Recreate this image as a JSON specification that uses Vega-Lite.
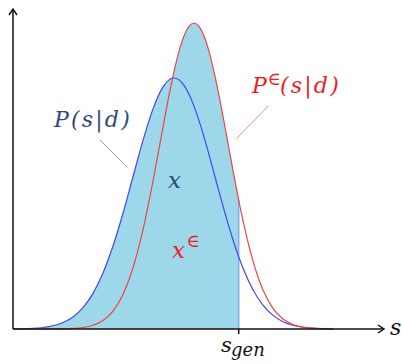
{
  "$schema": "https://vega.github.io/schema/vega-lite/v6.json",
  "width": 371,
  "height": 320,
  "autosize": {"type": "none"},
  "padding": {"left": 13, "top": 9, "right": 18, "bottom": 35},
  "background": "white",
  "config": {"view": {"stroke": null}},
  "datasets": {
    "curves": [
      {"s": 0, "blue": 0.11, "red": 0, "fill": 0.11},
      {"s": 20, "blue": 0.68, "red": 0, "fill": 0.68},
      {"s": 30, "blue": 1.52, "red": 0.02, "fill": 1.52},
      {"s": 40, "blue": 3.22, "red": 0.06, "fill": 3.22},
      {"s": 50, "blue": 6.43, "red": 0.18, "fill": 6.43},
      {"s": 60, "blue": 12.08, "red": 0.54, "fill": 12.08},
      {"s": 70, "blue": 21.38, "red": 1.48, "fill": 21.38},
      {"s": 80, "blue": 35.66, "red": 3.71, "fill": 35.66},
      {"s": 90, "blue": 56.04, "red": 8.52, "fill": 56.04},
      {"s": 100, "blue": 82.99, "red": 17.92, "fill": 82.99},
      {"s": 110, "blue": 115.79, "red": 34.59, "fill": 115.79},
      {"s": 120, "blue": 152.24, "red": 61.2, "fill": 152.24},
      {"s": 130, "blue": 188.59, "red": 99.34, "fill": 188.59},
      {"s": 140, "blue": 220.14, "red": 147.9, "fill": 220.14},
      {"s": 150, "blue": 242.13, "red": 201.93, "fill": 242.13},
      {"s": 156, "blue": 249.14, "red": 233.52, "fill": 249.14},
      {"s": 159.4, "blue": 250.8, "red": 250.1, "fill": 250.8},
      {"s": 161, "blue": 251, "red": 257.39, "fill": 257.39},
      {"s": 166, "blue": 249.14, "red": 277.62, "fill": 277.62},
      {"s": 171, "blue": 243.65, "red": 293.05, "fill": 293.05},
      {"s": 176, "blue": 234.75, "red": 302.71, "fill": 302.71},
      {"s": 181, "blue": 222.85, "red": 306, "fill": 306},
      {"s": 186, "blue": 208.42, "red": 302.71, "fill": 302.71},
      {"s": 191, "blue": 192.05, "red": 293.05, "fill": 293.05},
      {"s": 196, "blue": 174.35, "red": 277.62, "fill": 277.62},
      {"s": 201, "blue": 155.95, "red": 257.39, "fill": 257.39},
      {"s": 206, "blue": 137.43, "red": 233.52, "fill": 233.52},
      {"s": 211, "blue": 119.33, "red": 207.34, "fill": 207.34},
      {"s": 216, "blue": 102.07, "red": 180.14, "fill": 180.14},
      {"s": 221, "blue": 86.03, "red": 153.17, "fill": 153.17},
      {"s": 225.7, "blue": 72.26, "red": 128.94, "fill": 128.94},
      {"s": 231, "blue": 58.44, "red": 103.78, "fill": null},
      {"s": 240, "blue": 39.22, "red": 67.9, "fill": null},
      {"s": 250, "blue": 23.8, "red": 39.04, "fill": null},
      {"s": 260, "blue": 13.6, "red": 20.58, "fill": null},
      {"s": 270, "blue": 7.33, "red": 9.95, "fill": null},
      {"s": 280, "blue": 3.72, "red": 4.42, "fill": null},
      {"s": 290, "blue": 1.78, "red": 1.8, "fill": null},
      {"s": 300, "blue": 0.8, "red": 0.67, "fill": null},
      {"s": 310, "blue": 0.34, "red": 0.23, "fill": null},
      {"s": 320, "blue": 0.14, "red": 0.07, "fill": null}
    ],
    "leaders": [
      {"s": 87, "p": 189, "s2": 113.7, "p2": 162.3, "who": "P"},
      {"s": 255.3, "p": 223, "s2": 223.7, "p2": 190.7, "who": "Pe"}
    ],
    "axes": [
      {"s": 0, "p": 0, "s2": 371, "p2": 0},
      {"s": 0, "p": 0, "s2": 0, "p2": 320},
      {"s": 225.7, "p": 0, "s2": 225.7, "p2": -5}
    ]
  },
  "layer": [
    {
      "data": {"name": "curves"},
      "mark": {"type": "area", "interpolate": "monotone", "color": "#9dd8ea", "opacity": 1},
      "encoding": {
        "x": {"field": "s", "type": "quantitative", "scale": {"domain": [0, 371]}, "axis": null},
        "y": {"field": "fill", "type": "quantitative", "scale": {"domain": [0, 320]}, "axis": null}
      }
    },
    {
      "data": {"values": [{"s": 225.7, "p": 128.94}]},
      "mark": {"type": "rule", "color": "#84ace6", "strokeWidth": 1.5},
      "encoding": {
        "x": {"field": "s", "type": "quantitative", "scale": {"domain": [0, 371]}, "axis": null},
        "y": {"field": "p", "type": "quantitative", "scale": {"domain": [0, 320]}, "axis": null},
        "y2": {"datum": 0}
      }
    },
    {
      "data": {"name": "curves"},
      "mark": {"type": "line", "interpolate": "monotone", "color": "#4444f2", "strokeWidth": 1.2},
      "encoding": {
        "x": {"field": "s", "type": "quantitative", "scale": {"domain": [0, 371]}, "axis": null},
        "y": {"field": "blue", "type": "quantitative", "scale": {"domain": [0, 320]}, "axis": null}
      }
    },
    {
      "data": {"name": "curves"},
      "mark": {"type": "line", "interpolate": "monotone", "color": "#f04444", "strokeWidth": 1.2},
      "encoding": {
        "x": {"field": "s", "type": "quantitative", "scale": {"domain": [0, 371]}, "axis": null},
        "y": {"field": "red", "type": "quantitative", "scale": {"domain": [0, 320]}, "axis": null}
      }
    },
    {
      "data": {"name": "leaders"},
      "mark": {"type": "rule", "strokeWidth": 1},
      "encoding": {
        "x": {"field": "s", "type": "quantitative", "scale": {"domain": [0, 371]}, "axis": null},
        "y": {"field": "p", "type": "quantitative", "scale": {"domain": [0, 320]}, "axis": null},
        "x2": {"field": "s2"},
        "y2": {"field": "p2"},
        "color": {"field": "who", "type": "nominal", "scale": {"domain": ["P", "Pe"], "range": ["#8c9dbb", "#f28a8a"]}, "legend": null}
      }
    },
    {
      "data": {"name": "axes"},
      "mark": {"type": "rule", "color": "#111111", "strokeWidth": 1.5},
      "encoding": {
        "x": {"field": "s", "type": "quantitative", "scale": {"domain": [0, 371]}, "axis": null},
        "y": {"field": "p", "type": "quantitative", "scale": {"domain": [0, 320]}, "axis": null},
        "x2": {"field": "s2"},
        "y2": {"field": "p2"}
      }
    },
    {
      "data": {"values": [{"s": 371, "p": 0}]},
      "mark": {"type": "point", "shape": "M-1.5,-1L0,0L-1.5,1", "filled": false, "stroke": "#111111", "strokeWidth": 1.5, "size": 64, "opacity": 1},
      "encoding": {
        "x": {"field": "s", "type": "quantitative", "scale": {"domain": [0, 371]}, "axis": null},
        "y": {"field": "p", "type": "quantitative", "scale": {"domain": [0, 320]}, "axis": null}
      }
    },
    {
      "data": {"values": [{"s": 0, "p": 320}]},
      "mark": {"type": "point", "shape": "M-1,1.5L0,0L1,1.5", "filled": false, "stroke": "#111111", "strokeWidth": 1.5, "size": 64, "opacity": 1},
      "encoding": {
        "x": {"field": "s", "type": "quantitative", "scale": {"domain": [0, 371]}, "axis": null},
        "y": {"field": "p", "type": "quantitative", "scale": {"domain": [0, 320]}, "axis": null}
      }
    },
    {
      "data": {"values": [{"s": 41, "p": 202, "t": "P\u200a(\u200as\u200a|\u200ad\u200a)"}]},
      "mark": {"type": "text", "font": "DejaVu Serif", "fontStyle": "italic", "fontSize": 22, "color": "#2e4a7d", "align": "left", "baseline": "alphabetic"},
      "encoding": {
        "x": {"field": "s", "type": "quantitative", "scale": {"domain": [0, 371]}, "axis": null},
        "y": {"field": "p", "type": "quantitative", "scale": {"domain": [0, 320]}, "axis": null},
        "text": {"field": "t"}
      }
    },
    {
      "data": {"values": [{"s": 155, "p": 141, "t": "x"}]},
      "mark": {"type": "text", "font": "DejaVu Serif", "fontStyle": "italic", "fontSize": 23, "color": "#2e4a7d", "align": "left", "baseline": "alphabetic"},
      "encoding": {
        "x": {"field": "s", "type": "quantitative", "scale": {"domain": [0, 371]}, "axis": null},
        "y": {"field": "p", "type": "quantitative", "scale": {"domain": [0, 320]}, "axis": null},
        "text": {"field": "t"}
      }
    },
    {
      "data": {"values": [{"s": 239, "p": 236, "t": "P"}, {"s": 267, "p": 236, "t": "(\u200as\u200a|\u200ad\u200a)"}]},
      "mark": {"type": "text", "font": "DejaVu Serif", "fontStyle": "italic", "fontSize": 22, "color": "#f01c1c", "align": "left", "baseline": "alphabetic"},
      "encoding": {
        "x": {"field": "s", "type": "quantitative", "scale": {"domain": [0, 371]}, "axis": null},
        "y": {"field": "p", "type": "quantitative", "scale": {"domain": [0, 320]}, "axis": null},
        "text": {"field": "t"}
      }
    },
    {
      "data": {"values": [{"s": 159, "p": 71, "t": "x"}]},
      "mark": {"type": "text", "font": "DejaVu Serif", "fontStyle": "italic", "fontSize": 23, "color": "#f01c1c", "align": "left", "baseline": "alphabetic"},
      "encoding": {
        "x": {"field": "s", "type": "quantitative", "scale": {"domain": [0, 371]}, "axis": null},
        "y": {"field": "p", "type": "quantitative", "scale": {"domain": [0, 320]}, "axis": null},
        "text": {"field": "t"}
      }
    },
    {
      "data": {"values": [{"s": 254.5, "p": 244, "t": "∈"}, {"s": 173.5, "p": 82, "t": "∈"}]},
      "mark": {"type": "text", "font": "DejaVu Serif", "fontSize": 18, "color": "#f01c1c", "align": "left", "baseline": "alphabetic"},
      "encoding": {
        "x": {"field": "s", "type": "quantitative", "scale": {"domain": [0, 371]}, "axis": null},
        "y": {"field": "p", "type": "quantitative", "scale": {"domain": [0, 320]}, "axis": null},
        "text": {"field": "t"}
      }
    },
    {
      "data": {"values": [{"s": 377, "p": -6, "t": "s"}]},
      "mark": {"type": "text", "font": "DejaVu Serif", "fontStyle": "italic", "fontSize": 22, "color": "#111111", "align": "left", "baseline": "alphabetic"},
      "encoding": {
        "x": {"field": "s", "type": "quantitative", "scale": {"domain": [0, 371]}, "axis": null},
        "y": {"field": "p", "type": "quantitative", "scale": {"domain": [0, 320]}, "axis": null},
        "text": {"field": "t"}
      }
    },
    {
      "data": {"values": [{"s": 208, "p": -23, "t": "s"}]},
      "mark": {"type": "text", "font": "DejaVu Serif", "fontStyle": "italic", "fontSize": 21, "color": "#111111", "align": "left", "baseline": "alphabetic"},
      "encoding": {
        "x": {"field": "s", "type": "quantitative", "scale": {"domain": [0, 371]}, "axis": null},
        "y": {"field": "p", "type": "quantitative", "scale": {"domain": [0, 320]}, "axis": null},
        "text": {"field": "t"}
      }
    },
    {
      "data": {"values": [{"s": 218, "p": -27, "t": "gen"}]},
      "mark": {"type": "text", "font": "DejaVu Serif", "fontStyle": "italic", "fontSize": 18, "color": "#111111", "align": "left", "baseline": "alphabetic"},
      "encoding": {
        "x": {"field": "s", "type": "quantitative", "scale": {"domain": [0, 371]}, "axis": null},
        "y": {"field": "p", "type": "quantitative", "scale": {"domain": [0, 320]}, "axis": null},
        "text": {"field": "t"}
      }
    }
  ]
}
